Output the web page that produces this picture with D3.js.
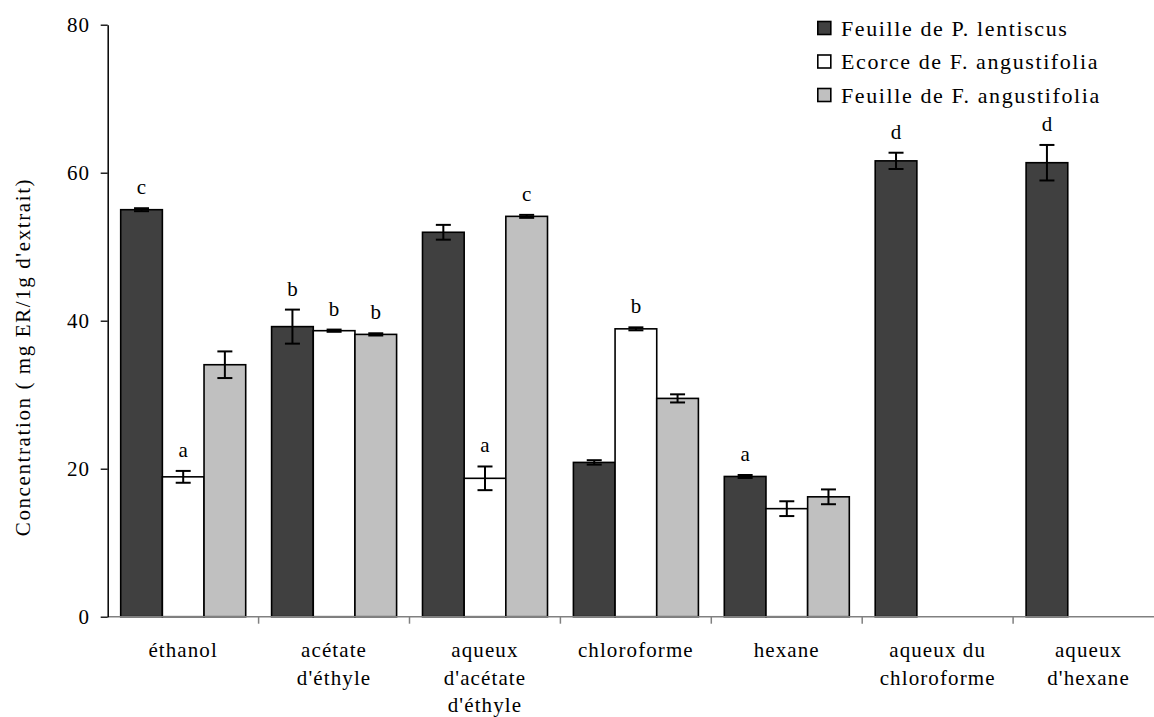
<!DOCTYPE html>
<html>
<head>
<meta charset="utf-8">
<script src="https://cdn.jsdelivr.net/npm/d3@7"></script>
<style>
  html, body { margin: 0; padding: 0; background: #fff; }
  svg { display: block; font-family: "Liberation Serif", "Times New Roman", serif; }
</style>
</head>
<body>
<svg id="chart" width="1154" height="717"></svg>
<script>
// Extract categories (multi-line axis labels)
const categories = [
  "éthanol",
  "acétate d'éthyle",
  "aqueux d'acétate d'éthyle",
  "chloroforme",
  "hexane",
  "aqueux du chloroforme",
  "aqueux d'hexane"
];
const categoryLines = [
  ["éthanol"],
  ["acétate", "d'éthyle"],
  ["aqueux", "d'acétate", "d'éthyle"],
  ["chloroforme"],
  ["hexane"],
  ["aqueux du", "chloroforme"],
  ["aqueux", "d'hexane"]
];

const seriesNames = [
  "Feuille de P. lentiscus",
  "Ecorce de F. angustifolia",
  "Feuille de F. angustifolia"
];

// Concentration (mg ER / 1 g extract), standard deviations, and significance letters
const lentiscusLeaf = [55.0, 39.2, 51.95, 20.85, 18.95, 61.6, 61.35];
const lentiscusLeafErr = [0.2, 2.3, 1.0, 0.3, 0.2, 1.1, 2.4];
const lentiscusLeafLetters = ["c", "b", "", "", "a", "d", "d"];

const angustifoliaBark = [18.9, 38.65, 18.7, 38.9, 14.6, null, null];
const angustifoliaBarkErr = [0.8, 0.15, 1.6, 0.2, 1.0, null, null];
const angustifoliaBarkLetters = ["a", "b", "a", "b", "", "", ""];

const angustifoliaLeaf = [34.05, 38.15, 54.1, 29.5, 16.2, null, null];
const angustifoliaLeafErr = [1.8, 0.15, 0.2, 0.55, 1.0, null, null];
const angustifoliaLeafLetters = ["", "b", "c", "", "", "", ""];

const yTicks = [0, 20, 40, 60, 80];
const yTitle = "Concentration ( mg ER/1g d'extrait)";

const seriesColors = ["#404040", "#ffffff", "#c0c0c0"];

const series = [
  { name: seriesNames[0], values: lentiscusLeaf, errs: lentiscusLeafErr, letters: lentiscusLeafLetters, color: seriesColors[0] },
  { name: seriesNames[1], values: angustifoliaBark, errs: angustifoliaBarkErr, letters: angustifoliaBarkLetters, color: seriesColors[1] },
  { name: seriesNames[2], values: angustifoliaLeaf, errs: angustifoliaLeafErr, letters: angustifoliaLeafLetters, color: seriesColors[2] }
];

const svg = d3.select("#chart");
svg.append("rect").attr("width", 1154).attr("height", 717).attr("fill", "#fff");

const plotLeft = 107.7, step = 150.9, plotTop = 24.7, plotBottom = 616.7;

const x0 = d3.scaleBand()
  .domain(categories)
  .range([plotLeft, plotLeft + step * categories.length])
  .paddingInner(0).paddingOuter(0);

const x1 = d3.scaleBand()
  .domain(seriesNames)
  .range([13, 138]);

const y = d3.scaleLinear().domain([0, 80]).range([plotBottom, plotTop]);

// Bars
const barData = [];
series.forEach(s => {
  categories.forEach((c, i) => {
    if (s.values[i] != null) {
      barData.push({ cat: c, name: s.name, v: s.values[i], e: s.errs[i], letter: s.letters[i], color: s.color });
    }
  });
});

const g = svg.append("g");
const cx = d => x0(d.cat) + x1(d.name) + x1.bandwidth() / 2;

g.selectAll("rect.bar")
  .data(barData)
  .join("rect")
  .attr("class", "bar")
  .attr("x", d => x0(d.cat) + x1(d.name))
  .attr("y", d => y(d.v))
  .attr("width", x1.bandwidth())
  .attr("height", d => y(0) - y(d.v))
  .attr("fill", d => d.color)
  .attr("stroke", "#000")
  .attr("stroke-width", 1.6);

// Error bars
const cap = 7.5;
const eb = g.selectAll("g.err")
  .data(barData)
  .join("g")
  .attr("class", "err")
  .attr("stroke", "#000")
  .attr("stroke-width", 2);
eb.append("line")
  .attr("x1", cx).attr("x2", cx)
  .attr("y1", d => y(d.v + d.e))
  .attr("y2", d => y(d.v - d.e));
eb.append("line")
  .attr("x1", d => cx(d) - cap).attr("x2", d => cx(d) + cap)
  .attr("y1", d => y(d.v + d.e)).attr("y2", d => y(d.v + d.e));
eb.append("line")
  .attr("x1", d => cx(d) - cap).attr("x2", d => cx(d) + cap)
  .attr("y1", d => y(d.v - d.e)).attr("y2", d => y(d.v - d.e));

// Significance letters
g.selectAll("text.letter")
  .data(barData.filter(d => d.letter))
  .join("text")
  .attr("class", "letter")
  .attr("x", cx)
  .attr("y", d => y(d.v + d.e) - 14)
  .attr("text-anchor", "middle")
  .attr("font-size", 21)
  .attr("fill", "#000")
  .text(d => d.letter);

// X axis: grey baseline with ticks at category boundaries
const xAxisG = svg.append("g");
xAxisG.append("line")
  .attr("x1", plotLeft).attr("x2", x0.range()[1])
  .attr("y1", y(0)).attr("y2", y(0))
  .attr("stroke", "#808080").attr("stroke-width", 1.5);
xAxisG.selectAll("line.tick")
  .data(categories.slice(1))
  .join("line")
  .attr("class", "tick")
  .attr("x1", d => x0(d)).attr("x2", d => x0(d))
  .attr("y1", y(0)).attr("y2", y(0) + 7)
  .attr("stroke", "#808080").attr("stroke-width", 1.5);

// Category labels
const catLabels = xAxisG.selectAll("text.cat")
  .data(categories)
  .join("text")
  .attr("class", "cat")
  .attr("text-anchor", "middle")
  .attr("font-size", 21)
  .attr("letter-spacing", "1.1px")
  .attr("fill", "#000");
catLabels.each(function(d, i) {
  const t = d3.select(this);
  categoryLines[i].forEach((line, j) => {
    t.append("tspan")
      .attr("x", x0(d) + x0.bandwidth() / 2)
      .attr("y", 657 + j * 27.5)
      .text(line);
  });
});

// Y axis
const yAxis = d3.axisLeft(y).tickValues(yTicks).tickSize(7).tickSizeOuter(0).tickPadding(11);
const yAxisG = svg.append("g")
  .attr("transform", `translate(${plotLeft},0)`)
  .call(yAxis);
yAxisG.select(".domain").attr("stroke", "#000").attr("stroke-width", 1.5);
yAxisG.selectAll(".tick line").attr("stroke", "#000").attr("stroke-width", 1.3);
yAxisG.selectAll(".tick text")
  .attr("font-family", "Liberation Serif, Times New Roman, serif")
  .attr("font-size", 21)
  .attr("letter-spacing", "0.8px")
  .attr("fill", "#000");

// Y axis title
svg.append("text")
  .attr("transform", "translate(30,357) rotate(-90)")
  .attr("text-anchor", "middle")
  .attr("font-size", 21)
  .attr("letter-spacing", "1.6px")
  .attr("fill", "#000")
  .text(yTitle);

// Legend
const legend = svg.append("g").attr("transform", "translate(817,28)");
const rowGap = 33.5;
const items = legend.selectAll("g.item")
  .data(series)
  .join("g")
  .attr("class", "item")
  .attr("transform", (d, i) => `translate(0,${i * rowGap})`);
items.append("rect")
  .attr("x", 0.8).attr("y", -6.5)
  .attr("width", 13).attr("height", 13)
  .attr("fill", d => d.color)
  .attr("stroke", "#000")
  .attr("stroke-width", 1.6);
items.append("text")
  .attr("x", 24)
  .attr("y", 7.5)
  .attr("font-size", 22)
  .attr("letter-spacing", "1.6px")
  .attr("fill", "#000")
  .text(d => d.name);
</script>
</body>
</html>
